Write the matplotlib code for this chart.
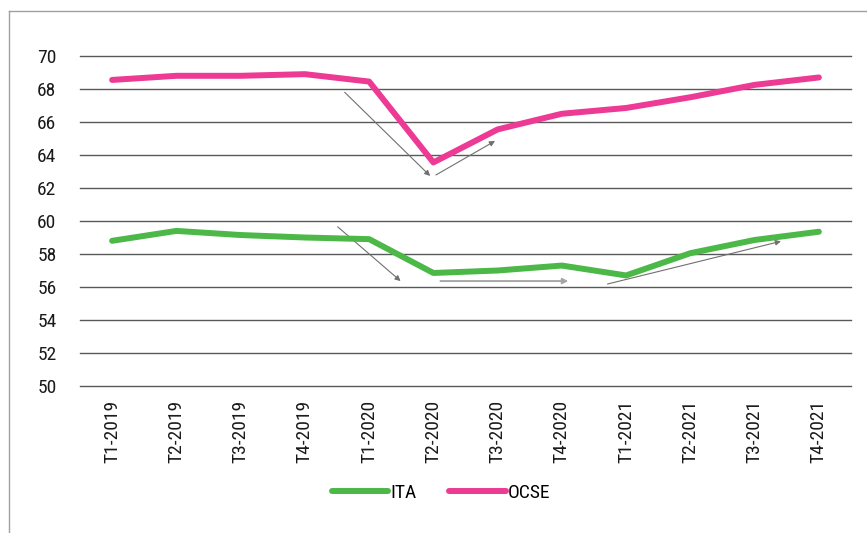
import matplotlib.pyplot as plt
from matplotlib.lines import Line2D
from matplotlib import font_manager
from matplotlib.font_manager import FontProperties

# --- dati ---
trimestri = ["T1-2019", "T2-2019", "T3-2019", "T4-2019",
             "T1-2020", "T2-2020", "T3-2020", "T4-2020",
             "T1-2021", "T2-2021", "T3-2021", "T4-2021"]
ita = [58.8, 59.4, 59.15, 59.0, 58.9, 56.85, 57.0, 57.3, 56.7, 58.05, 58.85, 59.35]
ocse = [68.55, 68.8, 68.8, 68.9, 68.45, 63.55, 65.55, 66.5, 66.85, 67.5, 68.25, 68.7]

# frecce di tendenza: (x0, y0, x1, y1) in coordinate dati
frecce_scure = [(3.62, 67.8, 4.95, 62.73),
                (5.04, 62.79, 5.96, 64.85),
                (3.51, 59.65, 4.49, 56.36),
                (7.71, 56.18, 10.41, 58.77)]
frecce_chiare = [(5.11, 56.36, 7.10, 56.36)]

# cerca un font condensato tra quelli installati
def cond_font():
    pref = ["Liberation Sans Narrow", "Roboto Condensed", "Open Sans Condensed",
            "Noto Sans", "Open Sans", "Roboto", "Inter"]
    found = []
    for f in font_manager.fontManager.ttflist:
        low = f.fname.lower()
        narrow = ("condensed" in low or "narrow" in low or "condensed" in str(f.stretch)
                  or "narrow" in f.name.lower())
        if not narrow or f.style != "normal":
            continue
        if "extra" in low or "ultra" in low or "semi" in low:
            continue
        if "bold" in low or "light" in low or "thin" in low or "black" in low \
                or "medium" in low or "italic" in low:
            continue
        found.append(f)
    for p in pref:
        for f in found:
            if f.name.startswith(p):
                return f.fname
    return found[0].fname if found else None

fn = cond_font()
if fn:
    fp = FontProperties(fname=fn, size=14)
else:
    fp = FontProperties(family="DejaVu Sans", size=11)

verde = "#4cb847"
rosa = "#ec3a95"

fig = plt.figure(figsize=(8.67, 5.33), dpi=100)
ax = fig.add_axes([80 / 867, 1 - 386 / 533, 771 / 867, 330 / 533])

x = range(len(trimestri))
ax.plot(x, ita, color=verde, lw=4.3, solid_capstyle="round", label="ITA", zorder=3)
ax.plot(x, ocse, color=rosa, lw=4.3, solid_capstyle="round", label="OCSE", zorder=3)

for x0, y0, x1, y1 in frecce_scure:
    ax.annotate("", xy=(x1, y1), xytext=(x0, y0),
                arrowprops=dict(arrowstyle="-|>", color="#707070", lw=0.8,
                                mutation_scale=8, shrinkA=0, shrinkB=0), zorder=2)
for x0, y0, x1, y1 in frecce_chiare:
    ax.annotate("", xy=(x1, y1), xytext=(x0, y0),
                arrowprops=dict(arrowstyle="-|>", color="#a6a6a6", lw=1.4,
                                mutation_scale=8, shrinkA=0, shrinkB=0), zorder=2)

ax.set_xlim(-0.5, len(trimestri) - 0.5)
ax.set_ylim(50, 70)
ax.set_yticks(range(50, 71, 2))
ax.set_xticks(list(x))
ax.set_xticklabels(trimestri, rotation=90)
ax.grid(axis="y", color="#595959", lw=1)
for gl in ax.get_ygridlines():
    gl.set_clip_on(False)
ax.set_axisbelow(True)
for s in ax.spines.values():
    s.set_visible(False)
ax.tick_params(axis="both", length=0, colors="#1a1a1a")
ax.tick_params(axis="y", pad=17)
ax.tick_params(axis="x", pad=10)
for lab in ax.get_xticklabels() + ax.get_yticklabels():
    lab.set_fontproperties(fp)

fig.legend(loc="center", bbox_to_anchor=(441 / 867, 1 - 493 / 533), ncol=2, frameon=False,
           prop=fp, handlelength=2.9, handletextpad=0.1, columnspacing=1.7)

# cornice grigia del riquadro
fig.add_artist(Line2D([8.5 / 867, 8.5 / 867], [0, 1 - 10.5 / 533],
                      transform=fig.transFigure, color="#a0a0a0", lw=1))
fig.add_artist(Line2D([8.5 / 867, 1], [1 - 10.5 / 533, 1 - 10.5 / 533],
                      transform=fig.transFigure, color="#a0a0a0", lw=1))

fig.savefig("out.png", dpi=100)
